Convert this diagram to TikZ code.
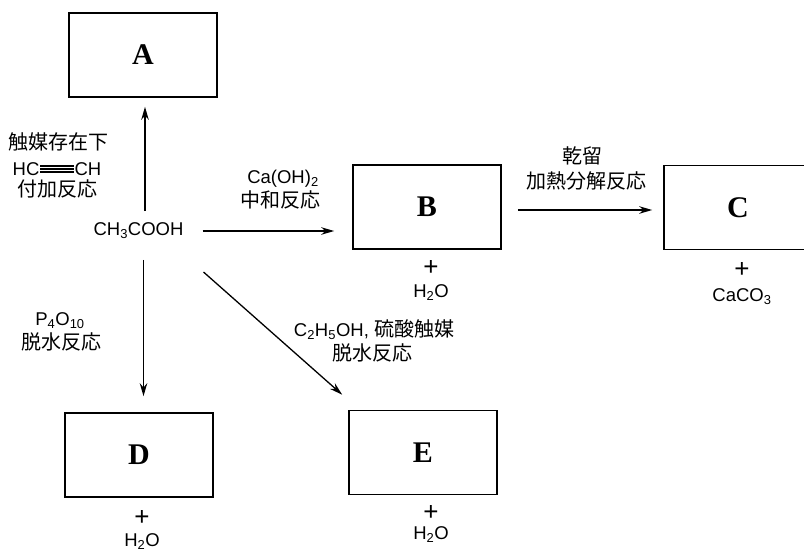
\documentclass[tikz,border=0pt]{standalone}
\usepackage{fontspec}
\setmainfont{Liberation Sans}
\newfontfamily\cjk{Noto Sans CJK JP}
\newfontfamily\serifbold{Liberation Serif}
\usetikzlibrary{arrows.meta,calc}
\newcommand\chsub[1]{\textsubscript{#1}}
\newcommand\tribond{\kern0.05em\rule[0.17em]{1.8em}{0.065em}\llap{\rule[0.33em]{1.8em}{0.065em}}\llap{\rule[0.49em]{1.8em}{0.065em}}\kern0.05em}
\begin{document}
\begin{tikzpicture}[x=1pt,y=-1pt,
  box/.style={draw,line width=1.6pt,minimum width=148pt,minimum height=84pt,inner sep=0pt,
    font=\fontsize{30}{30}\selectfont\serifbold\bfseries},
  lat/.style={inner sep=0pt,text height=13.5pt,text depth=4pt,font=\fontsize{18.5}{20}\selectfont},
  jp/.style={inner sep=0pt,text height=15pt,text depth=2pt,font=\fontsize{20}{22}\selectfont\cjk},
  plus/.style={inner sep=0pt,font=\fontsize{26}{26}\selectfont},
  arr/.style={line width=1.3pt,-{Stealth[length=13pt,width=7.5pt]}}]
\useasboundingbox (0,0) rectangle (804,552);

% boxes
\node[box] (A) at (143,55) {A};
\node[box] (B) at (427,207) {B};
\node[box] (C) at (738,207.5) {C};
\node[box] (D) at (139,455) {D};
\node[box] (E) at (423,452.5) {E};

% source
\node[lat] (src) at (138.5,231) {CH\chsub{3}COOH};

% labels
\node[jp] (l1) at (59,143) {触媒存在下};
\node[lat] (l2) at (57,171) {HC\tribond CH};
\node[jp] (l3) at (57,190) {付加反応};
\node[lat] (l4) at (283,179) {Ca(OH)\chsub{2}};
\node[jp] (l5) at (280,201) {中和反応};
\node[jp] (l6) at (582,157) {乾留};
\node[jp] (l7) at (586,182) {加熱分解反応};
\node[lat] (l8) at (60,321) {P\chsub{4}O\chsub{10}};
\node[jp] (l9) at (61,343) {脱水反応};
\node[lat] (l10) at (374,332) {C\chsub{2}H\chsub{5}OH, {\fontsize{20}{22}\selectfont\cjk 硫酸触媒}};
\node[jp] (l11) at (372,354) {脱水反応};

% by-products
\node[plus] (pB) at (431,268) {+};
\node[lat] (wB) at (431,293) {H\chsub{2}O};
\node[plus] (pC) at (742,270) {+};
\node[lat] (wC) at (742,297) {CaCO\chsub{3}};
\node[plus] (pD) at (142,518) {+};
\node[lat] (wD) at (142,542) {H\chsub{2}O};
\node[plus] (pE) at (431,513) {+};
\node[lat] (wE) at (431,535) {H\chsub{2}O};

% arrows
\draw[arr,shorten <=11pt,shorten >=9pt] ([xshift=6.5pt]src.north) -- ([xshift=6.5pt]src.north |- A.south);
\draw[arr,shorten <=19pt,shorten >=18pt] (src.east) -- (src.east -| B.west);
\draw[arr,shorten <=16pt,shorten >=11pt] ([yshift=-3pt]B.east) -- ([yshift=-3pt]B.east -| C.west);
\draw[arr,shorten <=20pt,shorten >=16pt] ([xshift=5pt]src.south) -- ([xshift=5pt]src.south |- D.north);
\draw[arr] ($(src)+(65,41)$) -- ($(E.north west)+(-6,-15)$);
\end{tikzpicture}
\end{document}
